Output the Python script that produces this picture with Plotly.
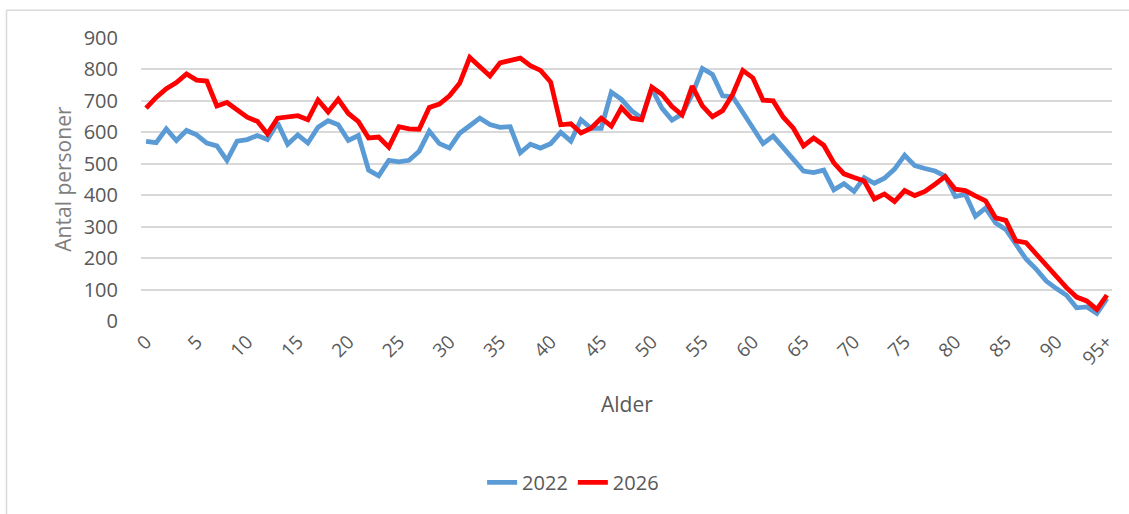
import plotly.graph_objects as go

ages = [str(i) for i in range(95)] + ["95+"]

pop_2022 = [571, 567, 611, 574, 606, 592, 566, 557, 511, 572,
            577, 590, 577, 630, 562, 592, 566, 616, 637, 624,
            574, 590, 480, 462, 511, 506, 511, 540, 604, 564,
            550, 597, 621, 645, 625, 616, 618, 535, 562, 550,
            564, 600, 572, 640, 613, 613, 728, 705, 669, 645,
            739, 677, 639, 658, 721, 803, 784, 716, 713, 663,
            614, 564, 588, 553, 514, 477, 472, 480, 417, 437,
            412, 456, 438, 454, 483, 527, 494, 485, 477, 461,
            396, 403, 333, 359, 312, 291, 246, 197, 165, 127,
            103, 82, 42, 45, 24, 71]

pop_2026 = [677, 711, 739, 758, 786, 766, 763, 684, 695, 671,
            648, 635, 595, 645, 648, 653, 640, 703, 665, 705,
            660, 634, 582, 585, 553, 618, 611, 610, 679, 690,
            716, 756, 838, 807, 779, 821, 828, 836, 812, 797,
            760, 624, 627, 598, 613, 645, 620, 678, 645, 640,
            744, 721, 682, 655, 747, 684, 650, 669, 721, 797,
            773, 702, 700, 648, 613, 557, 582, 559, 503, 468,
            456, 445, 388, 404, 380, 415, 399, 412, 435, 459,
            419, 415, 398, 382, 328, 320, 255, 249, 213, 176,
            139, 106, 76, 64, 37, 82]

tick_labels = [ages[i] for i in range(0, 96, 5)]
y_ticks = list(range(0, 901, 100))

FONT = "Open Sans"
GREY = "#595959"

fig = go.Figure()
fig.add_trace(go.Scatter(x=ages, y=pop_2022, mode="lines", name="2022",
                         line=dict(color="#5B9BD5", width=4.8)))
fig.add_trace(go.Scatter(x=ages, y=pop_2026, mode="lines", name="2026",
                         line=dict(color="#FF0000", width=4.8)))

fig.update_layout(
    width=1129, height=514,
    margin=dict(l=141, r=17, t=38, b=189),
    paper_bgcolor="white", plot_bgcolor="white",
    font=dict(family=FONT, size=20, color=GREY),
    showlegend=True,
    legend=dict(orientation="h", x=0.445, xanchor="center", y=-0.57, yanchor="middle",
                font=dict(family=FONT, size=20, color=GREY),
                traceorder="normal"),
    xaxis=dict(type="category", categoryorder="array", categoryarray=ages,
               range=[-0.5, 95.5], tickmode="array", tickvals=tick_labels,
               ticktext=tick_labels, tickangle=-45, showgrid=False,
               showline=False, zeroline=False, ticks="", automargin=False,
               ticklabelstandoff=5,
               tickfont=dict(family=FONT, size=19, color=GREY)),
    yaxis=dict(range=[0, 900], tickmode="array", tickvals=y_ticks,
               showgrid=True, gridcolor="#D9D9D9", gridwidth=1.5,
               zeroline=False, showline=False, ticks="", automargin=False,
               ticklabelstandoff=22,
               tickfont=dict(family=FONT, size=20, color=GREY)),
    annotations=[
        dict(text="Alder", xref="paper", yref="paper", x=0.5, y=-0.294,
             showarrow=False, xanchor="center", yanchor="middle",
             font=dict(family=FONT, size=21, color=GREY)),
        dict(text="Antal personer", xref="paper", yref="paper", x=-0.0803, y=0.503,
             showarrow=False, textangle=-90, xanchor="center", yanchor="middle",
             font=dict(family=FONT, size=21, color="#7F7F7F")),
    ],
    shapes=[
        dict(type="line", xref="paper", yref="paper", x0=-0.1385, x1=1.1,
             y0=1.098, y1=1.098, line=dict(color="#D9D9D9", width=1.5)),
        dict(type="line", xref="paper", yref="paper", x0=-0.1385, x1=-0.1385,
             y0=1.098, y1=-0.75, line=dict(color="#D9D9D9", width=1.5)),
    ],
)

fig.write_html("out.html", config={"displayModeBar": False},
               post_script="document.body.style.margin='0';document.body.style.padding='0';")
